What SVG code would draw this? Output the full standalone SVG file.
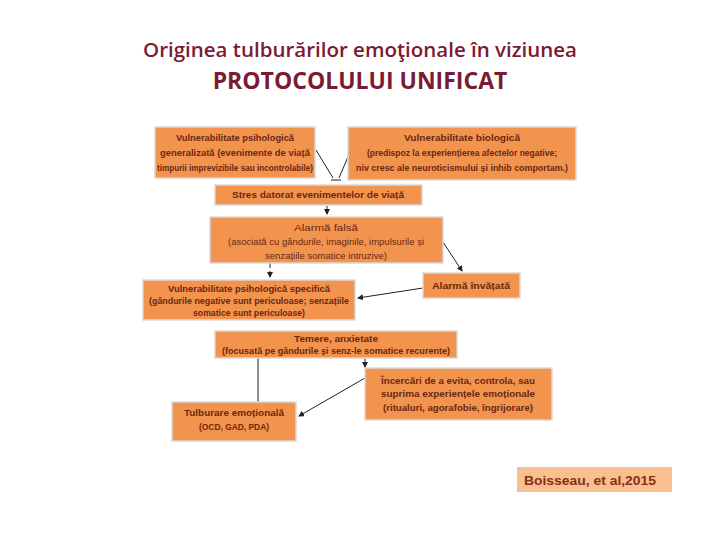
<svg xmlns="http://www.w3.org/2000/svg" width="720" height="540" viewBox="0 0 720 540">
<style>
.box{fill:#F2934E;stroke:#d9d9d9;stroke-width:1.5}
.t{font-family:"Liberation Sans",Arial,sans-serif;font-size:9.5px;fill:#6A2810;text-anchor:middle}
.b{font-weight:bold}
.title{font-family:"Open Sans","Liberation Sans",sans-serif;fill:#7B1A33;text-anchor:middle}
.ln{stroke:#222;stroke-width:1;fill:none}
</style>
<defs>
<marker id="ah" markerWidth="6" markerHeight="6" refX="5" refY="3" orient="auto" markerUnits="userSpaceOnUse">
<path d="M0,0 L6,3 L0,6 Z" fill="#222"/>
</marker>
</defs>
<rect width="720" height="540" fill="#fff"/>
<g id="title">
<text class="title" x="360" y="57" font-size="20" font-weight="600" textLength="434" lengthAdjust="spacingAndGlyphs">Originea tulburărilor emoţionale în viziunea</text>
<text class="title" x="360" y="89" font-size="23" font-weight="bold">PROTOCOLULUI UNIFICAT</text>
</g>
<g id="connectors">
<line class="ln" x1="316" y1="150" x2="333" y2="178"/>
<line class="ln" x1="350" y1="152" x2="339" y2="178"/>
<line class="ln" x1="331" y1="180" x2="341" y2="180" stroke-width="1.5"/>
<line class="ln" x1="327" y1="206" x2="327" y2="214" marker-end="url(#ah)"/>
<line class="ln" x1="443" y1="242" x2="462" y2="271" marker-end="url(#ah)"/>
<line class="ln" x1="270" y1="263" x2="270" y2="268"/>
<line class="ln" x1="270" y1="271" x2="270" y2="277" marker-end="url(#ah)"/>
<line class="ln" x1="423" y1="288" x2="358" y2="298" marker-end="url(#ah)"/>
<line class="ln" x1="258" y1="358" x2="258" y2="402"/>
<line class="ln" x1="365" y1="358" x2="365" y2="367" marker-end="url(#ah)"/>
<line class="ln" x1="365" y1="378" x2="299" y2="416" marker-end="url(#ah)"/>
</g>
<g id="n1">
<rect class="box" x="155" y="127" width="160" height="51"/>
<text class="t b" x="235" y="141" textLength="118" lengthAdjust="spacingAndGlyphs">Vulnerabilitate psihologică</text>
<text class="t b" x="235" y="156" textLength="150" lengthAdjust="spacingAndGlyphs">generalizată (evenimente de viață</text>
<text class="t b" x="235" y="171" textLength="156" lengthAdjust="spacingAndGlyphs">timpurii imprevizibile sau incontrolabile)</text>
</g>
<g id="n2">
<rect class="box" x="348" y="127" width="228" height="53"/>
<text class="t b" x="462" y="141" textLength="116" lengthAdjust="spacingAndGlyphs">Vulnerabilitate biologică</text>
<text class="t b" x="462" y="156" textLength="190" lengthAdjust="spacingAndGlyphs">(predispoz la experiențierea afectelor negative;</text>
<text class="t b" x="462" y="171" textLength="212" lengthAdjust="spacingAndGlyphs">niv cresc ale neuroticismului și inhib comportam.)</text>
</g>
<g id="n3">
<rect class="box" x="215" y="185" width="207" height="20"/>
<text class="t b" x="318" y="198" textLength="172" lengthAdjust="spacingAndGlyphs">Stres datorat evenimentelor de viață</text>
</g>
<g id="n4">
<rect class="box" x="210" y="217" width="233" height="46"/>
<text class="t" x="326" y="231" textLength="64" lengthAdjust="spacingAndGlyphs">Alarmă falsă</text>
<text class="t" x="326" y="245" textLength="196" lengthAdjust="spacingAndGlyphs">(asociată cu gândurile, imaginile, impulsurile și</text>
<text class="t" x="326" y="259" textLength="122" lengthAdjust="spacingAndGlyphs">senzațiile somatice intruzive)</text>
</g>
<g id="n5">
<rect class="box" x="423" y="273" width="97" height="25"/>
<text class="t b" x="471" y="289" textLength="78" lengthAdjust="spacingAndGlyphs">Alarmă învățată</text>
</g>
<g id="n6">
<rect class="box" x="143" y="280" width="212" height="40"/>
<text class="t b" x="249" y="292" textLength="162" lengthAdjust="spacingAndGlyphs">Vulnerabilitate psihologică specifică</text>
<text class="t b" x="249" y="304" textLength="200" lengthAdjust="spacingAndGlyphs">(gândurile negative sunt periculoase; senzațiile</text>
<text class="t b" x="249" y="316" textLength="112" lengthAdjust="spacingAndGlyphs">somatice sunt periculoase)</text>
</g>
<g id="n7">
<rect class="box" x="215" y="331" width="242" height="27"/>
<text class="t b" x="336" y="342" textLength="84" lengthAdjust="spacingAndGlyphs">Temere, anxietate</text>
<text class="t b" x="336" y="354" textLength="228" lengthAdjust="spacingAndGlyphs">(focusată pe gândurile și senz-le somatice recurente)</text>
</g>
<g id="n8">
<rect class="box" x="172" y="402" width="124" height="39"/>
<text class="t b" x="234" y="416" textLength="100" lengthAdjust="spacingAndGlyphs">Tulburare emoțională</text>
<text class="t b" x="234" y="430" textLength="70" lengthAdjust="spacingAndGlyphs">(OCD, GAD, PDA)</text>
</g>
<g id="n9">
<rect class="box" x="365" y="368" width="187" height="52"/>
<text class="t b" x="458" y="384" textLength="154" lengthAdjust="spacingAndGlyphs">Încercări de a evita, controla, sau</text>
<text class="t b" x="458" y="397" textLength="154" lengthAdjust="spacingAndGlyphs">suprima experiențele emoționale</text>
<text class="t b" x="458" y="411" textLength="150" lengthAdjust="spacingAndGlyphs">(ritualuri, agorafobie, îngrijorare)</text>
</g>
<g id="cite">
<rect x="517" y="467" width="155" height="25" fill="#F9C08F"/>
<text x="524" y="485" font-family="Liberation Sans,Arial,sans-serif" font-size="12.5" font-weight="bold" fill="#8B2E1A" textLength="132" lengthAdjust="spacingAndGlyphs">Boisseau, et al,2015</text>
</g>
</svg>
